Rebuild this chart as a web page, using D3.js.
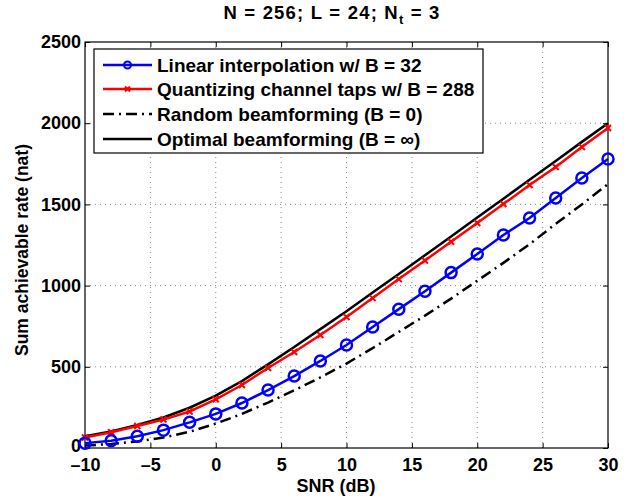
<!DOCTYPE html>
<html>
<head>
<meta charset="utf-8">
<script src="https://cdn.jsdelivr.net/npm/d3@7"></script>
<style>
  body { margin: 0; background: #fff; }
  text { font-family: "Liberation Sans", Arial, sans-serif; font-weight: bold; }
</style>
</head>
<body>
<div id="chart"></div>
<script>
// SNR points (dB)
const snr = [-10, -8, -6, -4, -2, 0, 2, 4, 6, 8, 10, 12, 14, 16, 18, 20, 22, 24, 26, 28, 30];

// sum achievable rate (nat) for each scheme
const linearInterp = [30, 45, 72, 110, 158, 210, 277, 357, 443, 536, 634, 745, 855, 965, 1080, 1195, 1312, 1416, 1539, 1663, 1780];
const quantTaps = [65, 97, 135, 175, 225, 300, 388, 493, 591, 696, 807, 923, 1040, 1155, 1270, 1385, 1502, 1619, 1730, 1853, 1970];
const randomBf = [15, 25, 40, 65, 100, 150, 210, 280, 355, 435, 520, 615, 715, 815, 920, 1030, 1140, 1255, 1380, 1500, 1625];
const optimalBf = [72, 102, 142, 188, 248, 322, 412, 515, 622, 732, 842, 957, 1072, 1187, 1302, 1420, 1535, 1652, 1767, 1885, 2000];

const xTicks = [-10, -5, 0, 5, 10, 15, 20, 25, 30];
const yTicks = [0, 500, 1000, 1500, 2000, 2500];

const legendLabels = [
    "Linear interpolation w/ B = 32",
    "Quantizing channel taps w/ B = 288",
    "Random beamforming (B = 0)",
    "Optimal beamforming (B = \u221E)"
];

const W = 633, H = 499;
const margin = {top: 42, right: 25, bottom: 51, left: 85};
const width = W - margin.left - margin.right;
const height = H - margin.top - margin.bottom;

const svg = d3.select("#chart").append("svg")
    .attr("width", W)
    .attr("height", H);

const g = svg.append("g")
    .attr("transform", `translate(${margin.left},${margin.top})`);

const x = d3.scaleLinear().domain([-10, 30]).range([0, width]);
const y = d3.scaleLinear().domain([0, 2500]).range([height, 0]);

// grid lines (dotted)
g.append("g").selectAll("line")
    .data(xTicks.slice(1, -1))
    .join("line")
    .attr("x1", d => x(d)).attr("x2", d => x(d))
    .attr("y1", 0).attr("y2", height)
    .attr("stroke", "#888").attr("stroke-width", 1)
    .attr("stroke-dasharray", "1,4");

g.append("g").selectAll("line")
    .data(yTicks.slice(1, -1))
    .join("line")
    .attr("x1", 0).attr("x2", width)
    .attr("y1", d => y(d)).attr("y2", d => y(d))
    .attr("stroke", "#888").attr("stroke-width", 1)
    .attr("stroke-dasharray", "1,4");

// axes with inward ticks
const xAxis = g.append("g")
    .attr("transform", `translate(0,${height})`)
    .call(d3.axisBottom(x).tickValues(xTicks).tickSizeInner(-5).tickSizeOuter(0).tickPadding(10)
        .tickFormat(d => d < 0 ? "\u2013" + Math.abs(d) : d));
xAxis.select(".domain").remove();
xAxis.selectAll("line").attr("stroke", "#000");
xAxis.selectAll("text").style("font-size", "18px").attr("fill", "#000");

const yAxis = g.append("g")
    .call(d3.axisLeft(y).tickValues(yTicks).tickSizeInner(-5).tickSizeOuter(0).tickPadding(4)
        .tickFormat(d3.format("d")));
yAxis.select(".domain").remove();
yAxis.selectAll("line").attr("stroke", "#000");
yAxis.selectAll("text").style("font-size", "18px").attr("fill", "#000")
    .attr("dy", d => d === 0 ? "0.2em" : "0.32em");

// top and right ticks
g.append("g")
    .call(d3.axisTop(x).tickValues(xTicks).tickSizeInner(-5).tickSizeOuter(0).tickFormat(""))
    .call(a => a.select(".domain").remove());
g.append("g")
    .attr("transform", `translate(${width},0)`)
    .call(d3.axisRight(y).tickValues(yTicks).tickSizeInner(-5).tickSizeOuter(0).tickFormat(""))
    .call(a => a.select(".domain").remove());

// box
g.append("rect")
    .attr("width", width).attr("height", height)
    .attr("fill", "none").attr("stroke", "#000").attr("stroke-width", 1.2);

const line = d3.line().x((d, i) => x(snr[i])).y(d => y(d));

// curves
g.append("path").datum(randomBf)
    .attr("d", line).attr("fill", "none")
    .attr("stroke", "#000").attr("stroke-width", 2.5)
    .attr("stroke-dasharray", "11,5,2,5");

g.append("path").datum(optimalBf)
    .attr("d", line).attr("fill", "none")
    .attr("stroke", "#000").attr("stroke-width", 2.5);

g.append("path").datum(quantTaps)
    .attr("d", line).attr("fill", "none")
    .attr("stroke", "#ff0000").attr("stroke-width", 2.5);

g.append("g").selectAll("path")
    .data(quantTaps)
    .join("path")
    .attr("transform", (d, i) => `translate(${x(snr[i])},${y(d)})`)
    .attr("d", "M-3,-3L3,3M-3,3L3,-3")
    .attr("stroke", "#ff0000").attr("stroke-width", 2);

g.append("path").datum(linearInterp)
    .attr("d", line).attr("fill", "none")
    .attr("stroke", "#0000ff").attr("stroke-width", 2.5);

g.append("g").selectAll("circle")
    .data(linearInterp)
    .join("circle")
    .attr("cx", (d, i) => x(snr[i]))
    .attr("cy", d => y(d))
    .attr("r", 5.5)
    .attr("fill", "none")
    .attr("stroke", "#0000ff").attr("stroke-width", 2.5);

// legend
const lg = svg.append("g").attr("transform", "translate(94,49)");
lg.append("rect")
    .attr("width", 389).attr("height", 104)
    .attr("fill", "#fff").attr("stroke", "#000").attr("stroke-width", 1.2);

const rowY = [16, 40, 65, 90];
const legendStyles = [
    {color: "#0000ff", dash: null, marker: "circle"},
    {color: "#ff0000", dash: null, marker: "x"},
    {color: "#000", dash: "11,5,2,5", marker: null},
    {color: "#000", dash: null, marker: null}
];

legendLabels.forEach((label, i) => {
    const s = legendStyles[i];
    const row = lg.append("g").attr("transform", `translate(0,${rowY[i]})`);
    row.append("line")
        .attr("x1", 9).attr("x2", 58)
        .attr("stroke", s.color).attr("stroke-width", 2.5)
        .attr("stroke-dasharray", s.dash);
    if (s.marker === "circle") {
        row.append("circle").attr("cx", 33.5).attr("r", 3.5)
            .attr("fill", "none").attr("stroke", s.color).attr("stroke-width", 2);
    } else if (s.marker === "x") {
        row.append("path").attr("transform", "translate(33.5,0)")
            .attr("d", "M-2.5,-2.5L2.5,2.5M-2.5,2.5L2.5,-2.5")
            .attr("stroke", s.color).attr("stroke-width", 2);
    }
    row.append("text")
        .attr("x", 63).attr("dy", "0.36em")
        .style("font-size", "19px")
        .text(label);
});

// title
const title = svg.append("text")
    .attr("x", 332).attr("y", 19)
    .attr("text-anchor", "middle")
    .style("font-size", "18.5px")
    .style("letter-spacing", "1.2px");
title.append("tspan").text("N = 256; L = 24; N");
title.append("tspan").attr("dy", 5).style("font-size", "13px").text("t");
title.append("tspan").attr("dy", -5).text(" = 3");

// axis labels
svg.append("text")
    .attr("x", 336).attr("y", 492)
    .attr("text-anchor", "middle")
    .style("font-size", "18px")
    .text("SNR (dB)");

svg.append("text")
    .attr("transform", `translate(28,${margin.top + height / 2 + 5}) rotate(-90)`)
    .attr("text-anchor", "middle")
    .style("font-size", "17.5px")
    .text("Sum achievable rate (nat)");
</script>
</body>
</html>
